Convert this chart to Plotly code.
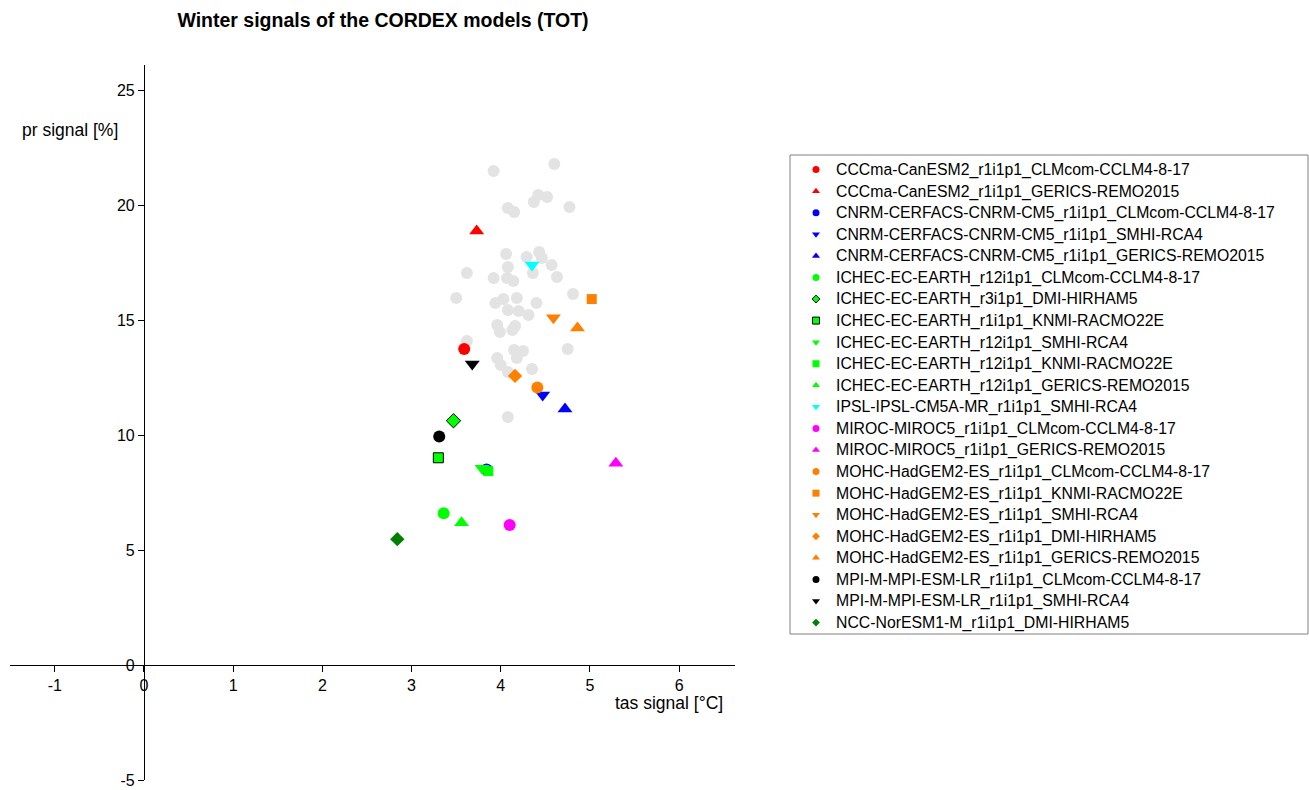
import plotly.graph_objects as go

# Ensemble members shown as the grey background cloud (tas signal [°C], pr signal [%])
ens_tas = [3.92, 4.60, 4.42, 4.52, 4.37, 4.08, 4.15, 4.77, 4.06, 4.29, 4.43,
           4.46, 4.08, 4.57, 3.62, 3.92, 4.07, 4.14, 4.36, 4.63, 4.81, 3.50,
           3.94, 4.03, 4.18, 4.40, 4.08, 4.20, 4.31, 3.96, 3.99, 4.13, 4.16,
           3.62, 4.75, 4.15, 4.25, 4.18, 3.96, 4.00, 4.08, 4.35, 4.08]
ens_pr = [21.48, 21.78, 20.43, 20.35, 20.13, 19.87, 19.70, 19.91, 17.87, 17.74,
          17.96, 17.70, 17.30, 17.39, 17.04, 16.83, 16.83, 16.70, 17.04, 16.87,
          16.13, 15.96, 15.74, 15.91, 15.96, 15.74, 15.43, 15.39, 15.22, 14.78,
          14.48, 14.57, 14.74, 14.09, 13.74, 13.70, 13.65, 13.35, 13.35, 13.04,
          12.74, 12.87, 10.78]

# CORDEX model chains
models = [
    "CCCma-CanESM2_r1i1p1_CLMcom-CCLM4-8-17",
    "CCCma-CanESM2_r1i1p1_GERICS-REMO2015",
    "CNRM-CERFACS-CNRM-CM5_r1i1p1_CLMcom-CCLM4-8-17",
    "CNRM-CERFACS-CNRM-CM5_r1i1p1_SMHI-RCA4",
    "CNRM-CERFACS-CNRM-CM5_r1i1p1_GERICS-REMO2015",
    "ICHEC-EC-EARTH_r12i1p1_CLMcom-CCLM4-8-17",
    "ICHEC-EC-EARTH_r3i1p1_DMI-HIRHAM5",
    "ICHEC-EC-EARTH_r1i1p1_KNMI-RACMO22E",
    "ICHEC-EC-EARTH_r12i1p1_SMHI-RCA4",
    "ICHEC-EC-EARTH_r12i1p1_KNMI-RACMO22E",
    "ICHEC-EC-EARTH_r12i1p1_GERICS-REMO2015",
    "IPSL-IPSL-CM5A-MR_r1i1p1_SMHI-RCA4",
    "MIROC-MIROC5_r1i1p1_CLMcom-CCLM4-8-17",
    "MIROC-MIROC5_r1i1p1_GERICS-REMO2015",
    "MOHC-HadGEM2-ES_r1i1p1_CLMcom-CCLM4-8-17",
    "MOHC-HadGEM2-ES_r1i1p1_KNMI-RACMO22E",
    "MOHC-HadGEM2-ES_r1i1p1_SMHI-RCA4",
    "MOHC-HadGEM2-ES_r1i1p1_DMI-HIRHAM5",
    "MOHC-HadGEM2-ES_r1i1p1_GERICS-REMO2015",
    "MPI-M-MPI-ESM-LR_r1i1p1_CLMcom-CCLM4-8-17",
    "MPI-M-MPI-ESM-LR_r1i1p1_SMHI-RCA4",
    "NCC-NorESM1-M_r1i1p1_DMI-HIRHAM5",
]
model_tas = [3.59, 3.73, 3.84, 4.47, 4.72, 3.36, 3.47, 3.30, 3.79, 3.86, 3.56,
             4.35, 4.10, 5.29, 4.41, 5.02, 4.59, 4.16, 4.86, 3.31, 3.68, 2.84]
model_pr = [13.74, 18.87, 8.50, 11.74, 11.13, 6.60, 10.62, 9.01, 8.55, 8.43, 6.19,
            17.39, 6.09, 8.77, 12.07, 15.91, 15.10, 12.57, 14.65, 9.93, 13.09, 5.47]

# Axis ticks
x_ticks = [-1, 0, 1, 2, 3, 4, 5, 6]
x_ticklabels = ["-1", "0", "1", "2", "3", "4", "5", "6"]
y_ticks = [-5, 0, 5, 10, 15, 20, 25]
y_ticklabels = ["-5", "0", "5", "10", "15", "20", "25"]

# Styling per chain
colors = ["#FF0000", "#FF0000", "#0000FF", "#0000FF", "#0000FF", "#00FF00",
          "#00FF00", "#00FF00", "#00FF00", "#00FF00", "#00FF00", "#00FFFF",
          "#FF00FF", "#FF00FF", "#FF8000", "#FF8000", "#FF8000", "#FF8000",
          "#FF8000", "#000000", "#000000", "#007F00"]
symbols = ["circle", "triangle-up", "circle", "triangle-down", "triangle-up",
           "circle", "diamond", "square", "triangle-down", "square",
           "triangle-up", "triangle-down", "circle", "triangle-up", "circle",
           "square", "triangle-down", "diamond", "triangle-up", "circle",
           "triangle-down", "diamond"]
outlined = [False] * 6 + [True, True] + [False] * 14

sym_size = {"circle": 12, "triangle-up": 13, "triangle-down": 13,
            "diamond": 11, "square": 10}

FONT = "Liberation Sans, Arial, Helvetica, sans-serif"
LEGEND_TEXT_PX = 15.8   # drawn size of the legend labels (row pitch follows the 14px legend font)

fig = go.Figure()

fig.add_trace(go.Scatter(
    x=ens_tas, y=ens_pr, mode="markers",
    marker=dict(color="#E3E3E3", size=12, line=dict(width=0)),
    showlegend=False, hoverinfo="x+y",
))

for i, name in enumerate(models):
    edge = dict(color="#000000", width=1) if outlined[i] else dict(width=0)
    fig.add_trace(go.Scatter(
        x=[model_tas[i]], y=[model_pr[i]], mode="markers", name=name,
        legendgroup=name, showlegend=False,
        marker=dict(color=colors[i], symbol=symbols[i],
                    size=sym_size[symbols[i]], line=edge),
    ))
    # smaller marker for the legend entry
    fig.add_trace(go.Scatter(
        x=[None], y=[None], mode="markers",
        name=f'<span style="font-size:{LEGEND_TEXT_PX}px">{name}</span>',
        legendgroup=name, showlegend=True, hoverinfo="skip",
        marker=dict(color=colors[i], symbol=symbols[i],
                    size=7 if symbols[i] != "diamond" else 6, line=edge),
    ))

x_range = [-1.502, 6.626]
y_range = [-5.0, 26.087]

axis_common = dict(
    showgrid=False, zeroline=False, showline=True, linecolor="#000000",
    linewidth=1, ticks="outside", ticklen=6, tickwidth=1, tickcolor="#000000",
    automargin=False,
    tickfont=dict(family=FONT, size=16, color="#000000"),
)

fig.update_layout(
    width=1309, height=790,
    margin=dict(l=10, r=574, t=65, b=10),
    paper_bgcolor="white", plot_bgcolor="white",
    font=dict(family=FONT, color="#000000"),
    title=dict(text="<b>Winter signals of the CORDEX models (TOT)</b>",
               x=383 / 1309, xanchor="center", xref="container",
               y=1 - 20 / 790, yanchor="middle", yref="container",
               font=dict(family=FONT, size=19.5, color="#000000")),
    xaxis=dict(range=x_range, domain=[0, 1], anchor="free",
               position=(0 - y_range[0]) / (y_range[1] - y_range[0]),
               tickvals=x_ticks, ticktext=x_ticklabels, **axis_common),
    yaxis=dict(range=y_range, domain=[0, 1], anchor="free",
               position=(0 - x_range[0]) / (x_range[1] - x_range[0]),
               tickvals=y_ticks, ticktext=y_ticklabels, **axis_common),
    legend=dict(x=(796 - 10) / 725, xanchor="left",
                y=(780 - 154) / 715, yanchor="top",
                bgcolor="rgba(0,0,0,0)", borderwidth=0,
                font=dict(family=FONT, size=14, color="#000000"),
                tracegroupgap=0.37, itemclick=False),
    showlegend=True,
)

# legend frame
fig.add_shape(type="rect", xref="paper", yref="paper",
              x0=(790 - 10) / 725, x1=(1308 - 10) / 725,
              y0=(780 - 634) / 715, y1=(780 - 155) / 715,
              line=dict(color="#808080", width=1), fillcolor="rgba(0,0,0,0)")

# axis titles
fig.add_annotation(text="pr signal [%]", xref="paper", yref="paper",
                   x=(120 - 10) / 725, y=(780 - 130) / 715,
                   xanchor="right", yanchor="middle", showarrow=False,
                   font=dict(family=FONT, size=17.5, color="#000000"))
fig.add_annotation(text="tas signal [°C]", xref="paper", yref="paper",
                   x=(725 - 10) / 725, y=(780 - 703) / 715,
                   xanchor="right", yanchor="middle", showarrow=False,
                   font=dict(family=FONT, size=17.5, color="#000000"))

fig.write_html("out.html")
